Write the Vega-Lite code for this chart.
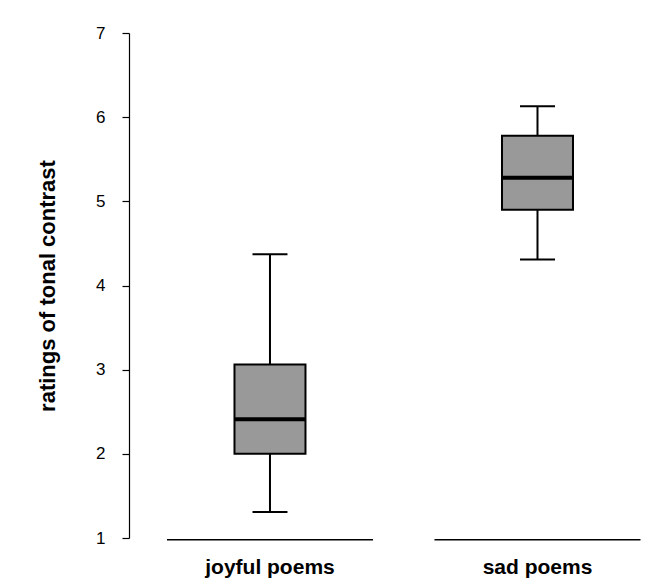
{
  "$schema": "https://vega.github.io/schema/vega-lite/v6.json",
  "width": 540,
  "height": 505,
  "autosize": "none",
  "padding": {"left": 129, "top": 33, "right": 0, "bottom": 41},
  "background": "white",
  "config": {"view": {"stroke": null}, "font": "Liberation Sans", "tick": {"opacity": 1}},
  "data": {"values": [
    {"group": "joyful poems", "lower": 1.31, "q1": 2.0, "median": 2.41, "q3": 3.06, "upper": 4.37},
    {"group": "sad poems", "lower": 4.31, "q1": 4.9, "median": 5.28, "q3": 5.78, "upper": 6.13}
  ]},
  "encoding": {
    "x": {
      "field": "group",
      "type": "nominal",
      "scale": {"paddingInner": 0.2, "paddingOuter": 0.1093, "align": 0.581},
      "axis": {
        "title": null,
        "domain": false,
        "ticks": false,
        "labelAngle": 0,
        "labelFontSize": 21,
        "labelFontWeight": "bold",
        "labelColor": "black",
        "labelBaseline": "alphabetic",
        "labelPadding": 35
      }
    }
  },
  "layer": [
    {
      "mark": {"type": "rule", "color": "black", "strokeWidth": 2},
      "encoding": {
        "y": {
          "field": "lower",
          "type": "quantitative",
          "scale": {"domain": [1, 7], "nice": false, "zero": false},
          "axis": {
            "title": "ratings of tonal contrast",
            "values": [1, 2, 3, 4, 5, 6, 7],
            "format": "d",
            "grid": false,
            "tickSize": 7,
            "tickColor": "black",
            "tickWidth": 1.2,
            "domainColor": "black",
            "domainWidth": 1.2,
            "labelFontSize": 17,
            "labelColor": "black",
            "labelPadding": 17,
            "titleFontSize": 22,
            "titleFontWeight": "bold",
            "titleColor": "black",
            "titlePadding": 36
          }
        },
        "y2": {"field": "upper"}
      }
    },
    {
      "mark": {"type": "tick", "color": "black", "opacity": 1, "size": 35, "thickness": 2},
      "encoding": {"y": {"field": "lower", "type": "quantitative", "title": "ratings of tonal contrast"}}
    },
    {
      "mark": {"type": "tick", "color": "black", "opacity": 1, "size": 35, "thickness": 2},
      "encoding": {"y": {"field": "upper", "type": "quantitative", "title": "ratings of tonal contrast"}}
    },
    {
      "mark": {"type": "bar", "size": 71, "fill": "#999999", "stroke": "black", "strokeWidth": 2},
      "encoding": {
        "y": {"field": "q1", "type": "quantitative", "title": "ratings of tonal contrast"},
        "y2": {"field": "q3"}
      }
    },
    {
      "mark": {"type": "tick", "color": "black", "opacity": 1, "size": 71, "thickness": 4},
      "encoding": {"y": {"field": "median", "type": "quantitative", "title": "ratings of tonal contrast"}}
    },
    {
      "mark": {"type": "tick", "color": "black", "opacity": 1, "size": 206, "thickness": 1.5},
      "encoding": {"y": {"datum": 0.98, "type": "quantitative"}}
    }
  ]
}
